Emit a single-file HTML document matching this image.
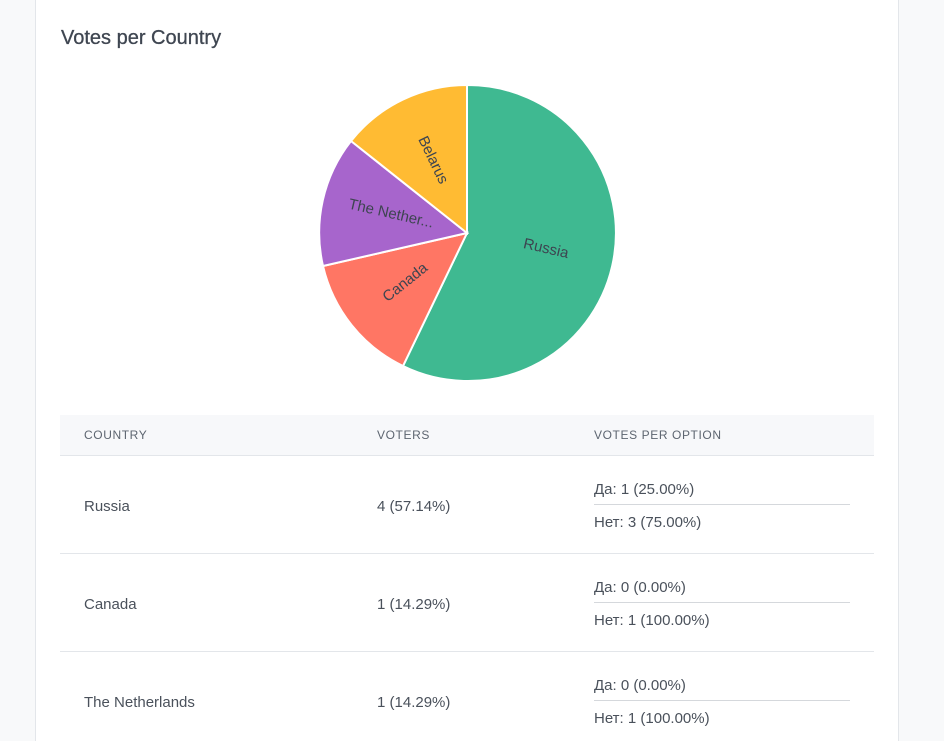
<!DOCTYPE html>
<html><head><meta charset="utf-8"><style>
html,body{margin:0;width:944px;height:741px;overflow:hidden}
body{background:#f8f9fa;font-family:"Liberation Sans","Noto Sans CJK SC",sans-serif;position:relative}
.card{position:absolute;left:35px;top:0;width:862px;height:741px;background:#fff;border-left:1px solid #e3e6ea;border-right:1px solid #e3e6ea}
h2{position:absolute;left:25px;top:27px;margin:0;font-size:20px;font-weight:normal;color:#3f4651;-webkit-text-stroke:0.3px #3f4651}
.t{position:absolute;left:24px;top:415px;width:814px}
.hd{height:40px;background:#f7f8fa;border-bottom:1px solid #e3e6ea;font-size:12px;letter-spacing:0.6px;color:#5d6570;position:relative}
.hd span{position:absolute;top:13px}
.row{height:97px;border-bottom:1px solid #e3e6ea;position:relative;font-size:15px;color:#4a515b}
.row .c{position:absolute;left:24px;top:42px}
.row .v{position:absolute;left:317px;top:42px}
.row .o1{position:absolute;left:534px;top:25px;width:256px;height:23px;border-bottom:1px solid #d5d8dc}
.row .o2{position:absolute;left:534px;top:58px}
</style></head><body>
<div class="card">
<h2>Votes per Country</h2>
<svg style="position:absolute;left:-35px;top:0" width="944" height="400">
<g stroke="#fff" stroke-width="2">
<path d="M466,233 L466,85 A148,148 0 1,1 402,366 Z" fill="#3fb991"/>
<path d="M466,233 L402,366 A148,148 0 0,1 322,266 Z" fill="#ff7664"/>
<path d="M466,233 L322,266 A148,148 0 0,1 350,141 Z" fill="#a765cc"/>
<path d="M466,233 L350,141 A148,148 0 0,1 466,85 Z" fill="#ffbb33"/>
</g>
<g font-family="Liberation Sans,sans-serif" font-size="15" fill="#3d4450" text-anchor="middle">
<text transform="translate(544,253) rotate(12.9)">Russia</text>
<text transform="translate(407,286) rotate(-38.6)">Canada</text>
<text transform="translate(389,218) rotate(12.9)">The Nether...</text>
<text transform="translate(428,162) rotate(64.3)">Belarus</text>
</g>
</svg>
<div class="t">
<div class="hd"><span style="left:24px">COUNTRY</span><span style="left:317px">VOTERS</span><span style="left:534px">VOTES PER OPTION</span></div>
<div class="row"><span class="c">Russia</span><span class="v">4 (57.14%)</span><div class="o1">Да: 1 (25.00%)</div><span class="o2">Нет: 3 (75.00%)</span></div>
<div class="row"><span class="c">Canada</span><span class="v">1 (14.29%)</span><div class="o1">Да: 0 (0.00%)</div><span class="o2">Нет: 1 (100.00%)</span></div>
<div class="row"><span class="c">The Netherlands</span><span class="v">1 (14.29%)</span><div class="o1">Да: 0 (0.00%)</div><span class="o2">Нет: 1 (100.00%)</span></div>
</div>
</div>
</body></html>
